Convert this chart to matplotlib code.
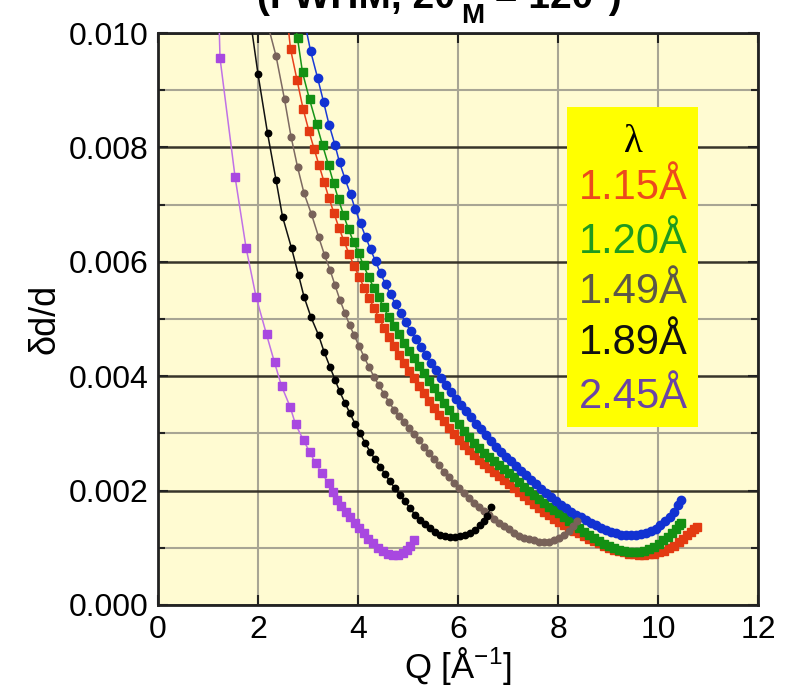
import matplotlib
matplotlib.use("Agg")
import matplotlib.pyplot as plt
from matplotlib.patches import Rectangle
from matplotlib.ticker import MultipleLocator, FormatStrFormatter

plt.rcParams["font.family"] = ["Liberation Sans", "DejaVu Sans"]
plt.rcParams["mathtext.fontset"] = "custom"
plt.rcParams["mathtext.rm"] = "Liberation Sans"
plt.rcParams["mathtext.it"] = "Liberation Sans:italic"
plt.rcParams["mathtext.bf"] = "Liberation Sans:bold"

# risoluzione dd/d in funzione di Q, una curva per lunghezza d'onda
q_115 = [2.58, 2.65, 2.78, 2.90, 3.02, 3.12, 3.22, 3.32, 3.42, 3.52, 3.62, 3.72, 3.82, 3.92,
         4.02, 4.12, 4.22, 4.32, 4.42, 4.52, 4.62, 4.72, 4.82, 4.92, 5.02, 5.12, 5.22, 5.32,
         5.42, 5.52, 5.62, 5.72, 5.82, 5.92, 6.02, 6.12, 6.22, 6.32, 6.42, 6.52, 6.62, 6.72,
         6.82, 6.92, 7.02, 7.12, 7.22, 7.32, 7.42, 7.52, 7.62, 7.72, 7.82, 7.92, 8.02, 8.12,
         8.22, 8.32, 8.42, 8.52, 8.62, 8.72, 8.82, 8.92, 9.02, 9.12, 9.22, 9.32, 9.42, 9.52,
         9.62, 9.72, 9.82, 9.92, 10.02, 10.12, 10.22, 10.32, 10.42, 10.50, 10.58, 10.66,
         10.73, 10.79]
dd_115 = [0.01030, 0.00972, 0.00918, 0.00868, 0.00828, 0.00798, 0.00769, 0.00740, 0.00711,
          0.00685, 0.00659, 0.00636, 0.00614, 0.00593, 0.00574, 0.00555, 0.00537, 0.00519,
          0.00502, 0.00485, 0.00468, 0.00452, 0.00437, 0.00423, 0.00409, 0.00396, 0.00383,
          0.00370, 0.00357, 0.00345, 0.00333, 0.00321, 0.00310, 0.00299, 0.00289, 0.00280,
          0.00271, 0.00262, 0.00254, 0.00246, 0.00239, 0.00232, 0.00225, 0.00218, 0.00211,
          0.00204, 0.00197, 0.00190, 0.00183, 0.00176, 0.00169, 0.00163, 0.00157, 0.00151,
          0.00145, 0.00140, 0.00135, 0.00130, 0.00125, 0.00120, 0.00116, 0.00112, 0.00108,
          0.00104, 0.00100, 0.00097, 0.00094, 0.00092, 0.00090, 0.00089, 0.00088, 0.00088,
          0.00089, 0.00090, 0.00092, 0.00095, 0.00099, 0.00104, 0.00110, 0.00116, 0.00122,
          0.00128, 0.00133, 0.00137]

q_120 = [2.72, 2.79, 2.89, 3.03, 3.17, 3.29, 3.41, 3.51, 3.61, 3.71, 3.81, 3.91, 4.01, 4.11,
         4.21, 4.31, 4.41, 4.51, 4.61, 4.71, 4.81, 4.91, 5.01, 5.11, 5.21, 5.31, 5.41, 5.51,
         5.61, 5.71, 5.81, 5.91, 6.01, 6.11, 6.21, 6.31, 6.41, 6.51, 6.61, 6.71, 6.81, 6.91,
         7.01, 7.11, 7.21, 7.31, 7.41, 7.51, 7.61, 7.71, 7.81, 7.91, 8.01, 8.11, 8.21, 8.31,
         8.41, 8.51, 8.61, 8.71, 8.81, 8.91, 9.01, 9.11, 9.21, 9.31, 9.41, 9.51, 9.61, 9.71,
         9.81, 9.91, 10.01, 10.11, 10.21, 10.29, 10.36, 10.42, 10.47]
dd_120 = [0.01025, 0.00991, 0.00931, 0.00884, 0.00841, 0.00804, 0.00769, 0.00738, 0.00709,
          0.00682, 0.00657, 0.00635, 0.00615, 0.00594, 0.00574, 0.00555, 0.00538, 0.00521,
          0.00504, 0.00488, 0.00473, 0.00458, 0.00444, 0.00431, 0.00418, 0.00405, 0.00392,
          0.00379, 0.00366, 0.00353, 0.00341, 0.00329, 0.00317, 0.00305, 0.00293, 0.00283,
          0.00274, 0.00266, 0.00259, 0.00252, 0.00245, 0.00238, 0.00231, 0.00223, 0.00215,
          0.00207, 0.00200, 0.00193, 0.00186, 0.00179, 0.00172, 0.00166, 0.00160, 0.00154,
          0.00147, 0.00140, 0.00134, 0.00128, 0.00122, 0.00117, 0.00112, 0.00107, 0.00103,
          0.00100, 0.00097, 0.00095, 0.00093, 0.00093, 0.00093, 0.00095, 0.00098, 0.00102,
          0.00107, 0.00113, 0.00119, 0.00126, 0.00133, 0.00139, 0.00143]

# curva blu (non in legenda)
q_blu = [2.92, 3.05, 3.19, 3.31, 3.42, 3.54, 3.63, 3.74, 3.85, 3.94, 4.05, 4.15, 4.25, 4.35,
         4.45, 4.55, 4.65, 4.75, 4.85, 4.95, 5.05, 5.15, 5.25, 5.35, 5.45, 5.55, 5.65, 5.75,
         5.85, 5.95, 6.05, 6.15, 6.25, 6.35, 6.45, 6.55, 6.65, 6.75, 6.85, 6.95, 7.05, 7.15,
         7.25, 7.35, 7.45, 7.55, 7.65, 7.75, 7.85, 7.95, 8.05, 8.15, 8.25, 8.35, 8.45, 8.55,
         8.65, 8.75, 8.85, 8.95, 9.05, 9.15, 9.25, 9.35, 9.45, 9.55, 9.65, 9.75, 9.85, 9.95,
         10.05, 10.15, 10.24, 10.32, 10.40, 10.47]
dd_blu = [0.01025, 0.00969, 0.00922, 0.00880, 0.00840, 0.00804, 0.00774, 0.00745, 0.00718,
          0.00693, 0.00667, 0.00644, 0.00622, 0.00601, 0.00580, 0.00561, 0.00543, 0.00526,
          0.00510, 0.00494, 0.00479, 0.00465, 0.00451, 0.00437, 0.00423, 0.00410, 0.00397,
          0.00385, 0.00373, 0.00361, 0.00350, 0.00339, 0.00328, 0.00317, 0.00307, 0.00297,
          0.00287, 0.00277, 0.00268, 0.00259, 0.00251, 0.00243, 0.00235, 0.00227, 0.00219,
          0.00211, 0.00203, 0.00196, 0.00189, 0.00182, 0.00175, 0.00169, 0.00163, 0.00158,
          0.00153, 0.00148, 0.00143, 0.00139, 0.00135, 0.00131, 0.00128, 0.00125, 0.00123,
          0.00122, 0.00122, 0.00122, 0.00124, 0.00126, 0.00129, 0.00133, 0.00139, 0.00146,
          0.00154, 0.00163, 0.00174, 0.00184]

q_149 = [2.21, 2.36, 2.53, 2.66, 2.79, 2.92, 3.07, 3.21, 3.33, 3.44, 3.54, 3.64, 3.74, 3.83,
         3.92, 4.02, 4.12, 4.22, 4.32, 4.42, 4.52, 4.62, 4.72, 4.82, 4.92, 5.02, 5.12, 5.22,
         5.32, 5.42, 5.52, 5.62, 5.72, 5.82, 5.92, 6.02, 6.12, 6.22, 6.32, 6.42, 6.52, 6.62,
         6.72, 6.82, 6.92, 7.02, 7.12, 7.22, 7.32, 7.42, 7.52, 7.62, 7.72, 7.82, 7.92, 8.02,
         8.12, 8.22, 8.30, 8.38]
dd_149 = [0.01010, 0.00960, 0.00884, 0.00819, 0.00766, 0.00720, 0.00683, 0.00644, 0.00612,
          0.00586, 0.00559, 0.00533, 0.00510, 0.00490, 0.00472, 0.00453, 0.00434, 0.00416,
          0.00399, 0.00384, 0.00369, 0.00355, 0.00341, 0.00330, 0.00320, 0.00309, 0.00299,
          0.00288, 0.00277, 0.00266, 0.00255, 0.00244, 0.00233, 0.00223, 0.00213, 0.00204,
          0.00195, 0.00187, 0.00179, 0.00171, 0.00164, 0.00157, 0.00150, 0.00144, 0.00138,
          0.00132, 0.00126, 0.00121, 0.00118, 0.00115, 0.00113, 0.00111, 0.00111, 0.00111,
          0.00113, 0.00117, 0.00122, 0.00130, 0.00138, 0.00147]

q_189 = [1.82, 2.00, 2.19, 2.36, 2.49, 2.67, 2.81, 2.92, 3.06, 3.21, 3.32, 3.44, 3.54, 3.63,
         3.74, 3.84, 3.94, 4.04, 4.14, 4.24, 4.34, 4.44, 4.54, 4.64, 4.74, 4.84, 4.94, 5.04,
         5.14, 5.24, 5.34, 5.44, 5.54, 5.64, 5.74, 5.84, 5.94, 6.04, 6.14, 6.24, 6.34, 6.44,
         6.51, 6.58, 6.66]
dd_189 = [0.01040, 0.00928, 0.00825, 0.00743, 0.00679, 0.00624, 0.00577, 0.00539, 0.00503,
          0.00472, 0.00443, 0.00416, 0.00394, 0.00374, 0.00353, 0.00335, 0.00317, 0.00300,
          0.00284, 0.00268, 0.00255, 0.00242, 0.00229, 0.00216, 0.00204, 0.00192, 0.00181,
          0.00169, 0.00158, 0.00149, 0.00141, 0.00134, 0.00128, 0.00123, 0.00120, 0.00119,
          0.00119, 0.00120, 0.00122, 0.00126, 0.00131, 0.00139, 0.00146, 0.00156, 0.00171]

q_245 = [1.15, 1.24, 1.54, 1.76, 1.96, 2.17, 2.33, 2.47, 2.64, 2.75, 2.91, 3.03, 3.15, 3.28,
         3.41, 3.50, 3.57, 3.66, 3.75, 3.84, 3.93, 4.02, 4.11, 4.20, 4.30, 4.40, 4.50, 4.60,
         4.70, 4.80, 4.90, 4.97, 5.04, 5.11]
dd_245 = [0.01250, 0.00956, 0.00749, 0.00625, 0.00539, 0.00473, 0.00424, 0.00383, 0.00347,
          0.00316, 0.00288, 0.00268, 0.00248, 0.00230, 0.00213, 0.00197, 0.00184, 0.00173,
          0.00163, 0.00154, 0.00144, 0.00134, 0.00125, 0.00116, 0.00108, 0.00100, 0.00094,
          0.00090, 0.00087, 0.00087, 0.00091, 0.00096, 0.00104, 0.00114]

etichette = ["1.15Å", "1.20Å", "1.49Å", "1.89Å", "2.45Å"]
colori_etichette = ["#ec4a1c", "#1f9a1f", "#5c5848", "#111111", "#6a44a6"]


def disegna_curve(ax):
    # (q, dd, colore linea, colore marker, marker, dimensione)
    curve = [
        (q_115, dd_115, "#e8401c", "#e33a12", "s", 5.5),
        (q_120, dd_120, "#179417", "#139013", "s", 6),
        (q_blu, dd_blu, "#1a3ad6", "#1232d2", "o", 6),
        (q_149, dd_149, "#7d6a62", "#786259", "o", 4.8),
        (q_189, dd_189, "#111111", "#000000", "o", 4.6),
        (q_245, dd_245, "#c071e6", "#a848e0", "s", 5.5),
    ]
    for q, dd, col, mcol, mk, ms in curve:
        ax.plot(q, dd, color=col, lw=1.1, marker=mk, ms=ms, mfc=mcol, mec=mcol, zorder=4)


def titolo(fig):
    # il titolo nell'originale e' tagliato dal bordo superiore
    H = 695.0
    W = 785.0
    r = fig.canvas.get_renderer()
    t1 = fig.text(257 / W, 1 - 8 / H, "(FWHM, 2θ", ha="left", va="baseline",
                  fontsize=28, fontweight="bold")
    bb = t1.get_window_extent(renderer=r)
    t2 = fig.text((bb.x1 + 6) / W, 1 - 23 / H, "M", ha="left", va="baseline",
                  fontsize=20, fontweight="bold")
    bb2 = t2.get_window_extent(renderer=r)
    fig.text(bb2.x1 / W, 1 - 8 / H, " = 120°)", ha="left", va="baseline",
             fontsize=28, fontweight="bold")


def main():
    fig = plt.figure(figsize=(7.85, 6.95), dpi=100)
    ax = fig.add_axes([0.2013, 0.1295, 0.7643, 0.823])
    ax.set_facecolor("#fffbd2")
    ax.set_axisbelow(True)

    disegna_curve(ax)

    ax.set_xlim(0, 12)
    ax.set_ylim(0, 0.010)
    ax.xaxis.set_major_locator(MultipleLocator(2))
    ax.yaxis.set_major_locator(MultipleLocator(0.002))
    ax.yaxis.set_minor_locator(MultipleLocator(0.001))
    ax.yaxis.set_major_formatter(FormatStrFormatter("%.3f"))

    ax.grid(True, axis="x", which="major", color="#a8a594", lw=1.5)
    ax.grid(True, axis="y", which="major", color="#38352a", lw=1.8)
    ax.grid(True, axis="y", which="minor", color="#a8a594", lw=1.5)

    ax.tick_params(which="both", direction="in", top=True, right=True,
                   width=1.5, color="#222222")
    ax.tick_params(which="major", length=7, labelsize=23, pad=7)
    ax.tick_params(which="minor", length=5)
    for s in ax.spines.values():
        s.set_linewidth(2)
        s.set_color("#222222")

    ax.set_xlabel("Q [Å$^{-1}$]", fontsize=25, labelpad=0)
    ax.set_ylabel("δd/d", fontsize=26, labelpad=4)

    # riquadro giallo con le lunghezze d'onda
    ax.add_patch(Rectangle((0.682, 0.311), 0.218, 0.56, transform=ax.transAxes,
                           facecolor="#ffff00", edgecolor="none", zorder=3))
    ax.text(0.792, 0.808, "λ", transform=ax.transAxes, ha="center", va="center",
            fontsize=28, family="Liberation Serif", zorder=5)
    ypos = [0.729, 0.635, 0.547, 0.458, 0.364]
    for lab, col, y in zip(etichette, colori_etichette, ypos):
        ax.text(0.792, y, lab, transform=ax.transAxes, ha="center", va="center",
                fontsize=30, color=col, zorder=5)

    titolo(fig)

    fig.savefig("out.png", dpi=100)
    plt.close(fig)


if __name__ == "__main__":
    main()
